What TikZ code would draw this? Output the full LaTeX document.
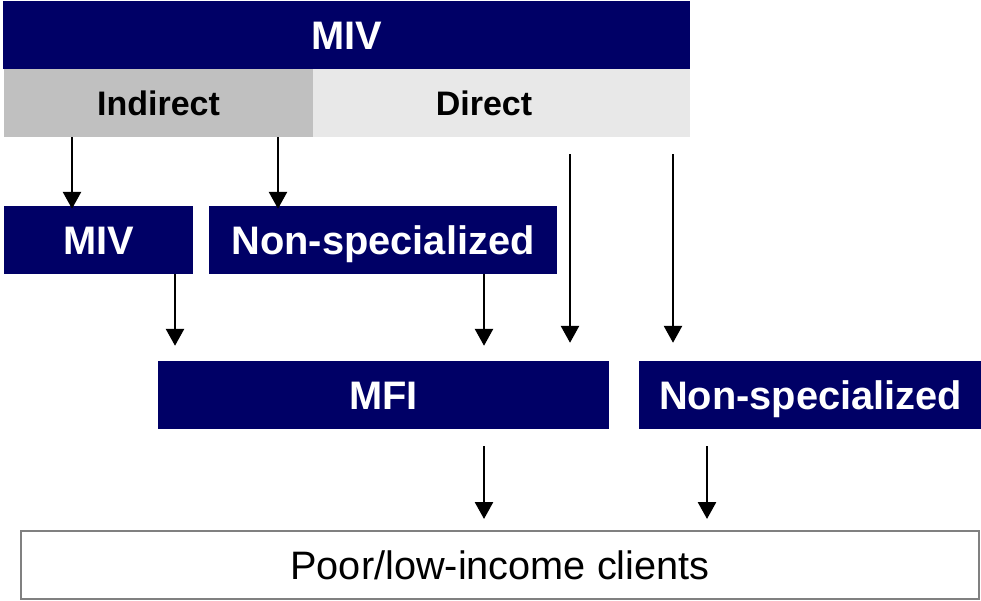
\documentclass[tikz,border=0pt]{standalone}
\usepackage{fontspec}
\setmainfont{Liberation Sans}
\usetikzlibrary{arrows.meta}
\definecolor{navy}{RGB}{0,0,102}
\definecolor{indgray}{RGB}{192,192,192}
\definecolor{dirgray}{RGB}{232,232,232}
\definecolor{edgegray}{RGB}{128,128,128}
\begin{document}
\begin{tikzpicture}[x=1pt,y=-1pt,
  navybox/.style={fill=navy, text=white, inner sep=0pt, minimum height=68pt,
    font=\fontsize{39.8}{40}\selectfont\bfseries, text height=28.5pt, text depth=0pt},
  graybox/.style={inner sep=0pt, minimum height=68pt,
    font=\fontsize{34}{35}\selectfont\bfseries, text height=24.3pt, text depth=0pt},
  poorbox/.style={draw=edgegray, line width=2pt, fill=white, inner sep=0pt,
    font=\fontsize{39.7}{40}\selectfont, text height=28.4pt, text depth=0pt},
  arr/.style={-{Triangle[width=18pt 0,length=17pt 0]}, line width=2.7pt, black}
]
\path[use as bounding box] (0,0) rectangle (981,601);

% top bar and sub bars
\node[navybox, minimum width=687pt] (top) at (346.5,35) {MIV};
\node[graybox, fill=indgray, minimum width=309pt] (ind) at (158.5,103) {Indirect};
\node[graybox, fill=dirgray, minimum width=377pt] (dir) at (501.5,103) {};
\node[graybox, inner sep=0pt, minimum height=0pt] (dirtext) at (484,103) {Direct};

% second row
\node[navybox, minimum width=189pt] (miv) at (98.5,240) {MIV};
\node[navybox, minimum width=348pt] (ns1) at (383,240) {Non-specialized};

% third row
\node[navybox, minimum width=451pt] (mfi) at (383.5,395) {MFI};
\node[navybox, minimum width=343pt] (ns2) at (810.5,395) {Non-specialized};

% clients
\node[poorbox, minimum width=958pt, minimum height=68pt] (poor) at (500,565) {Poor/low-income clients};

% x positions of arrows
\coordinate (xa) at (72,0);
\coordinate (xb) at (278,0);
\coordinate (xc) at (570,0);
\coordinate (xd) at (673,0);
\coordinate (xe) at (175,0);
\coordinate (xf) at (484,0);
\coordinate (xg) at (707,0);

\draw[arr, shorten >=-3pt] (ind.south -| xa) -- (miv.north -| xa);
\draw[arr, shorten >=-3pt] (ind.south -| xb) -- (ns1.north -| xb);
\draw[arr, shorten <=17pt, shorten >=18pt] (dir.south -| xc) -- (mfi.north -| xc);
\draw[arr, shorten <=17pt, shorten >=18pt] (dir.south -| xd) -- (ns2.north -| xd);
\draw[arr, shorten >=15pt] (miv.south -| xe) -- (mfi.north -| xe);
\draw[arr, shorten >=15pt] (ns1.south -| xf) -- (mfi.north -| xf);
\draw[arr, shorten <=17pt, shorten >=11pt] (mfi.south -| xf) -- (poor.north -| xf);
\draw[arr, shorten <=17pt, shorten >=11pt] (ns2.south -| xg) -- (poor.north -| xg);
\end{tikzpicture}
\end{document}
